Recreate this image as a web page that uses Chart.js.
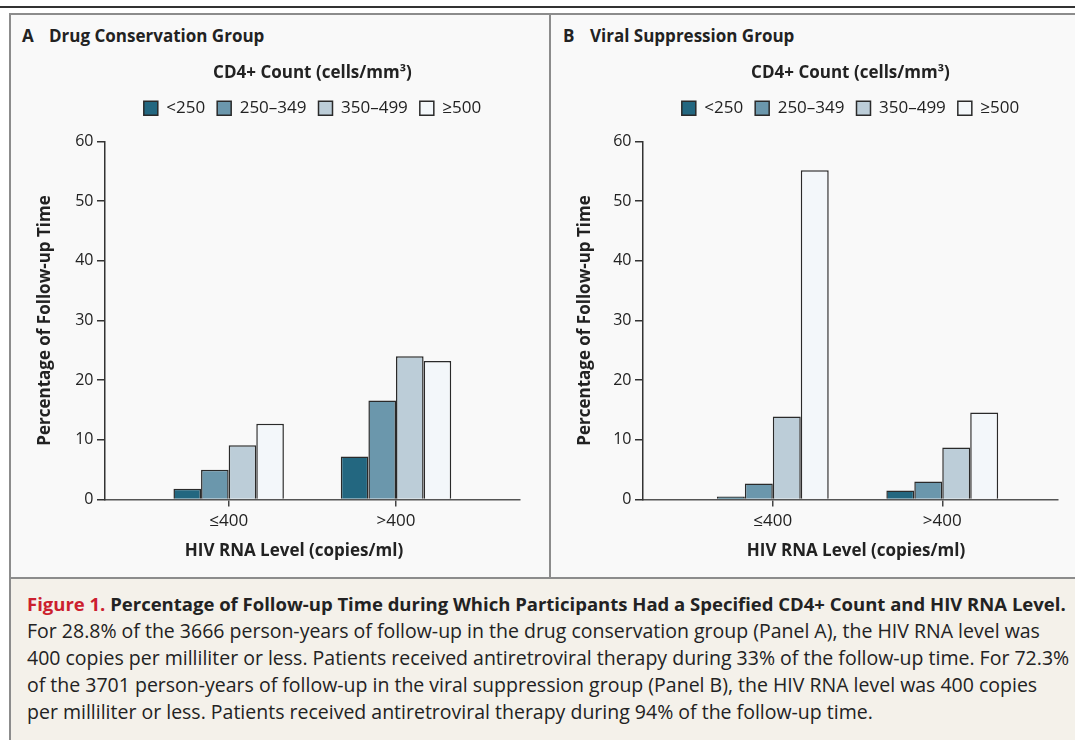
<!DOCTYPE html>
<html>
<head>
<meta charset="utf-8">
<script src="https://cdn.jsdelivr.net/npm/chart.js@4.4.1/dist/chart.umd.min.js"></script>
<style>
  body { margin: 0; width: 1075px; height: 740px; overflow: hidden; background: #fff;
         font-family: 'Open Sans', sans-serif; color: #222; position: relative; }
  .rule    { position: absolute; left: 0; top: 6px; width: 1075px; height: 2px; background: #333; }
  .frame   { position: absolute; left: 9px; top: 13px; width: 1090px; height: 760px;
             border: 2px solid #8c8c8c; box-sizing: border-box; background: #f4f1ea; }
  .panel   { position: absolute; top: 15px; height: 562px; background: #f9f9f9; }
  #pa      { left: 11px; width: 538px; }
  #pb      { left: 551px; width: 530px; }
  .divider { position: absolute; left: 549px; top: 15px; width: 2px; height: 562px; background: #8c8c8c; }
  .hline   { position: absolute; left: 11px; top: 577px; width: 1070px; height: 2px; background: #8c8c8c; }
  .ptitle  { position: absolute; top: 24px; font-size: 17px; font-weight: 700; line-height: 24px; white-space: nowrap; }
  .ptitle span { display: inline-block; width: 27px; }
  canvas   { position: absolute; top: 50px; }
  #cap     { position: absolute; left: 27px; top: 590px; line-height: 27px; font-size: 19.5px; white-space: nowrap; }
  #cap .head { font-weight: 700; font-size: 18.5px; }
  #cap .red  { color: #cc1f2f; }
</style>
</head>
<body>
<div class="rule"></div>
<div class="frame"></div>
<div class="panel" id="pa"></div>
<div class="panel" id="pb"></div>
<div class="divider"></div>
<div class="hline"></div>
<div class="ptitle" style="left:22px"><span>A</span>Drug Conservation Group</div>
<div class="ptitle" style="left:563px"><span>B</span>Viral Suppression Group</div>
<canvas id="chart-a" width="564" height="526" style="left:12px"></canvas>
<canvas id="chart-b" width="610" height="526" style="left:551px"></canvas>
<div id="cap">
  <div class="head"><span class="red">Figure 1.</span> Percentage of Follow-up Time during Which Participants Had a Specified CD4+ Count and HIV RNA Level.</div>
  <div>For 28.8% of the 3666 person-years of follow-up in the drug conservation group (Panel A), the HIV RNA level was</div>
  <div>400 copies per milliliter or less. Patients received antiretroviral therapy during 33% of the follow-up time. For 72.3%</div>
  <div>of the 3701 person-years of follow-up in the viral suppression group (Panel B), the HIV RNA level was 400 copies</div>
  <div>per milliliter or less. Patients received antiretroviral therapy during 94% of the follow-up time.</div>
</div>
<script>
// ── Data ─────────────────────────────────────────────────────────────────────

const rnaLevels = ['≤400', '>400'];
const cd4Groups = ['<250', '250–349', '350–499', '≥500'];
const yTicks    = [0, 10, 20, 30, 40, 50, 60];

// Panel A: drug conservation group (% of follow-up time)
const drugLt250   = [1.8, 7.2];
const drug250_349 = [5.0, 16.6];
const drug350_499 = [9.1, 24.0];
const drugGe500   = [12.7, 23.2];

// Panel B: viral suppression group
const viralLt250   = [0.5, 1.5];
const viral250_349 = [2.7, 3.0];
const viral350_499 = [13.9, 8.7];
const viralGe500   = [55.2, 14.6];

const barColors = ['#236780', '#6b97ac', '#bccdd8', '#f3f7fa'];

// ── Chart ────────────────────────────────────────────────────────────────────

Chart.defaults.font.family = "'Open Sans', sans-serif";
Chart.defaults.color = '#222';

function makeChart(id, series, cfg) {
  const datasets = cd4Groups.map((g, i) => ({
    label: g,
    data: series[i].map((v, j) => ({ x: j, y: v })),
    backgroundColor: barColors[i],
    borderColor: '#2a2a2a',
    borderWidth: 1.5,
    categoryPercentage: 0.66,
    barPercentage: 1,
    xAxisID: 'x',
    yAxisID: 'y'
  }));

  return new Chart(document.getElementById(id), {
    type: 'bar',
    data: { datasets },
    options: {
      responsive: false,
      animation: false,
      events: [],
      plugins: {
        tooltip: { enabled: false },
        legend: {
          position: 'top', fullSize: false,
          labels: { boxWidth: 14, boxHeight: 14, padding: 12, font: { size: 17 }, color: '#222' },
          title: { display: true, text: 'CD4+ Count (cells/mm³)', color: '#222',
                   font: { size: 17, weight: 'bold' }, padding: { top: 14.8, bottom: 2.6 } }
        },
        subtitle: {
          display: true, position: 'bottom', text: 'HIV RNA Level (copies/ml)', color: '#222',
          font: { size: 17, weight: 'bold' }, padding: { top: 5.9, bottom: 14.8 }
        }
      },
      scales: {
        x: {
          type: 'linear', min: cfg.xMin, max: cfg.xMax, offset: false, bounds: 'data',
          afterBuildTicks: s => { s.ticks = rnaLevels.map((c, i) => ({ value: i })); },
          ticks: { callback: v => rnaLevels[v], font: { size: 17 }, color: '#222', padding: 4 },
          grid: { offset: false, drawOnChartArea: false, tickLength: 7, color: '#444', lineWidth: 1.5 },
          border: { color: '#555', width: 1.5 }
        },
        y: {
          min: 0, max: 60,
          afterBuildTicks: s => { s.ticks = yTicks.map(v => ({ value: v })); },
          afterFit: s => { s.width = cfg.yWidth; },
          ticks: { font: { size: 16 }, color: '#222', padding: 3.5 },
          grid: { drawOnChartArea: false, tickLength: 8, color: '#333', lineWidth: 1.5 },
          border: { color: '#333', width: 1.5 },
          title: { display: true, text: 'Percentage of Follow-up Time', color: '#222',
                   font: { size: 17, weight: 'bold' }, padding: { top: cfg.yTitlePad, bottom: 0 } }
        },
        // spacer between legend and plot
        gap: {
          type: 'linear', axis: 'x', position: 'top',
          grid: { display: false }, border: { display: false }, ticks: { display: false },
          afterFit: s => { s.height = 14.7; }
        },
        // right margin so the bottom caption centres like the original
        pad: {
          type: 'linear', axis: 'y', position: 'right',
          grid: { display: false }, border: { display: false }, ticks: { display: false },
          afterFit: s => { s.width = cfg.padRight; }
        }
      }
    }
  });
}

makeChart('chart-a', [drugLt250, drug250_349, drug350_499, drugGe500],
  { xMin: -0.739, xMax: 1.741, yWidth: 93, padRight: 56, yTitlePad: 23.3 });

makeChart('chart-b', [viralLt250, viral250_349, viral350_499, viralGe500],
  { xMin: -0.766, xMax: 1.683, yWidth: 92, padRight: 103, yTitlePad: 24.3 });
</script>
</body>
</html>
